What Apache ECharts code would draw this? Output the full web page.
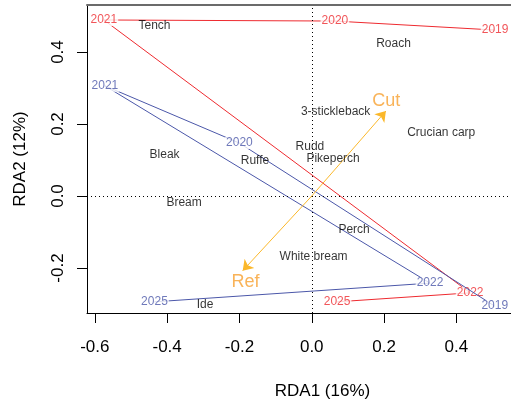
<!DOCTYPE html>
<html>
<head>
<meta charset="utf-8">
<script src="https://cdn.jsdelivr.net/npm/echarts@6/dist/echarts.min.js"></script>
<style>
  html, body { margin: 0; padding: 0; background: #fff; }
  #chart { width: 511px; height: 404px; }
</style>
</head>
<body>
<div id="chart"></div>
<script>
  // year trajectories (site scores), red and blue
  const redYears = ['2019', '2020', '2021', '2022', '2025'];
  const redX = [0.507, 0.064, -0.575, 0.438, 0.070];
  const redY = [0.461, 0.486, 0.489, -0.269, -0.294];

  const blueYears = ['2019', '2020', '2021', '2022', '2025'];
  const blueX = [0.506, -0.200, -0.572, 0.327, -0.435];
  const blueY = [-0.306, 0.147, 0.306, -0.242, -0.294];

  // species scores
  const species = ['Tench', 'Roach', '3-stickleback', 'Crucian carp', 'Rudd', 'Pikeperch',
    'Ruffe', 'Bleak', 'Bream', 'Perch', 'White bream', 'Ide'];
  const specX = [-0.435, 0.226, 0.066, 0.358, -0.005, 0.059, -0.157, -0.407, -0.353, 0.117, 0.005, -0.295];
  const specY = [0.472, 0.422, 0.233, 0.175, 0.136, 0.103, 0.097, 0.114, -0.019, -0.094, -0.169, -0.303];

  // environmental arrows
  const envNames = ['Cut', 'Ref'];
  const envX = [0.205, -0.191];
  const envY = [0.236, -0.2075];
  const envLabelX = [0.206, -0.183];
  const envLabelY = [0.264, -0.239];

  const ticks = [-0.6, -0.4, -0.2, 0, 0.2, 0.4];
  const yTicks = [-0.2, 0, 0.2, 0.4];

  const FONT = 'Liberation Sans, Arial, sans-serif';
  const RED = '#EE2A2F';
  const BLUE = '#4B57A9';

  function pairs(xs, ys) {
    return xs.map((x, i) => [x, ys[i]]);
  }
  function named(names, xs, ys) {
    return names.map((n, i) => ({ name: n, value: [xs[i], ys[i]] }));
  }

  function trajectory(xs, ys, color, z) {
    return {
      type: 'line',
      data: pairs(xs, ys),
      symbol: 'none',
      z: z,
      silent: true,
      lineStyle: { color: color, width: 1 }
    };
  }
  function textLayer(names, xs, ys, z, label) {
    return {
      type: 'scatter',
      data: named(names, xs, ys),
      symbolSize: 1,
      itemStyle: { color: 'rgba(0,0,0,0)' },
      z: z,
      silent: true,
      label: Object.assign({
        show: true,
        position: 'inside',
        formatter: '{b}',
        fontFamily: FONT
      }, label)
    };
  }
  function yearLabels(names, xs, ys, color, z) {
    return textLayer(names, xs, ys, z, {
      color: color,
      fontSize: 12,
      lineHeight: 12,
      backgroundColor: '#fff',
      padding: [0, 1]
    });
  }

  const chart = echarts.init(document.getElementById('chart'));
  chart.setOption({
    animation: false,
    grid: { left: 87, top: 5, right: -47, bottom: 91, outerBoundsMode: 'none', containLabel: false },
    xAxis: [{
      type: 'value',
      min: -0.6216,
      max: 0.681,
      name: 'RDA1 (16%)',
      nameLocation: 'middle',
      nameGap: 70,
      nameTextStyle: { fontFamily: FONT, fontSize: 17, color: '#000' },
      axisLine: { onZero: false, lineStyle: { color: '#000', width: 1 } },
      axisTick: { show: true, length: 10, customValues: ticks, lineStyle: { color: '#000' } },
      axisLabel: {
        customValues: ticks, margin: 26,
        fontFamily: FONT, fontSize: 17, color: '#000',
        formatter: v => v.toFixed(1)
      },
      splitLine: { show: false }
    }, {
      type: 'value',
      position: 'top',
      min: -0.6216,
      max: 0.681,
      axisLine: { onZero: false, lineStyle: { color: '#6b6b6b', width: 2 } },
      axisTick: { show: false },
      axisLabel: { show: false },
      splitLine: { show: false }
    }],
    yAxis: {
      type: 'value',
      min: -0.325,
      max: 0.5306,
      name: 'RDA2 (12%)',
      nameLocation: 'middle',
      nameGap: 58,
      nameTextStyle: { fontFamily: FONT, fontSize: 17, color: '#000' },
      axisLine: { onZero: false, lineStyle: { color: '#000', width: 1 } },
      axisTick: { show: true, length: 10, customValues: yTicks, lineStyle: { color: '#000' } },
      axisLabel: {
        customValues: yTicks, margin: 20, rotate: 90,
        fontFamily: FONT, fontSize: 17, color: '#000',
        formatter: v => v.toFixed(1)
      },
      splitLine: { show: false }
    },
    series: [
      {
        // dotted zero lines
        type: 'line',
        data: [],
        z: 1,
        markLine: {
          silent: true,
          symbol: 'none',
          label: { show: false },
          lineStyle: { color: '#000', type: [1, 3], width: 1 },
          data: [{ xAxis: 0 }, { yAxis: 0 }]
        }
      },
      trajectory(redX, redY, RED, 2),
      yearLabels(redYears, redX, redY, RED, 3),
      trajectory(blueX, blueY, BLUE, 4),
      yearLabels(blueYears, blueX, blueY, BLUE, 5),
      {
        type: 'lines',
        coordinateSystem: 'cartesian2d',
        z: 6,
        silent: true,
        symbol: ['none', 'arrow'],
        symbolSize: 10,
        lineStyle: { color: '#FBB82B', width: 1, opacity: 1 },
        data: envX.map((x, i) => ({ coords: [[0, 0], [x, envY[i]]] }))
      },
      textLayer(envNames, envLabelX, envLabelY, 7, { color: '#F7A030', fontSize: 18 }),
      textLayer(species, specX, specY, 8, { color: '#000', fontSize: 12 })
    ]
  });
</script>
</body>
</html>
